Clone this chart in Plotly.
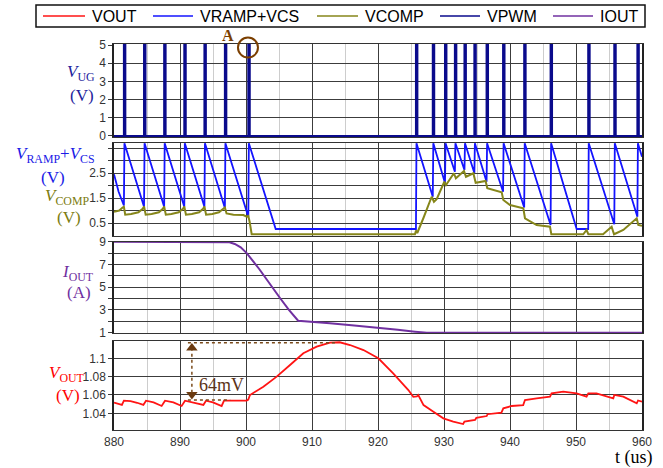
import plotly.graph_objects as go

# ---------------- data ----------------
T_START, T_END = 880, 960
x_ticks = [880, 890, 900, 910, 920, 930, 940, 950, 960]

# PWM pulse instants (us) and on-time
pwm_t = [881.5, 884.55, 887.6, 890.65, 893.7, 896.8, 900.35,
         925.75, 928.3, 930.15, 931.65, 933.1, 934.6, 936.45, 938.95,
         942.15, 946.15, 951.85, 955.8, 959.3]
pwm_on = 0.22
pwm_high = 5

# VRAMP+VCS : valley value reached just before each pulse, peak after it
ramp_valley = [1.2, 1.15, 1.15, 1.15, 1.15, 1.1, 0.75,
               0.26, 1.55, 2.1, 2.55, 2.62, 2.5, 2.15, 1.75,
               1.12, 0.42, 0.26, 0.45, 0.75]
ramp_peak = 3.69
ramp_start_t = [880.0, 880.7]
ramp_start_v = [2.45, 1.75]
ramp_floor_t = [904.5, 950.1]
ramp_floor_v = [0.26, 0.26]
ramp_end_v = 3.15

# VCOMP
vcomp_t = [880.0, 880.8, 881.3, 881.5, 881.7, 882.6, 883.7, 884.35, 884.55, 884.8,
           885.7, 886.8, 887.4, 887.6, 887.85, 888.7, 889.8, 890.45, 890.65, 890.9,
           891.8, 892.9, 893.5, 893.7, 893.95, 894.9, 895.9, 896.6, 896.8, 897.05,
           898.1, 899.6, 900.1, 900.35, 900.55, 900.86, 925.6, 925.76, 925.95, 926.87,
           928.13, 928.48, 928.89, 930.05, 930.3, 931.5, 931.8, 933.03, 933.33, 934.45,
           934.8, 936.3, 936.56, 938.74, 938.99, 940.0, 942.02, 942.27, 944.04, 946.06,
           946.26, 951.1, 951.6, 951.87, 954.1, 955.4, 955.76, 957.17, 959.2, 959.44, 960.0]
vcomp_v = [0.95, 1.0, 1.12, 1.15, 0.83, 0.86, 0.93, 1.07, 1.16, 0.83,
           0.86, 0.93, 1.07, 1.16, 0.83, 0.86, 0.93, 1.07, 1.16, 0.83,
           0.86, 0.93, 1.07, 1.16, 0.83, 0.86, 0.93, 1.05, 1.12, 0.88,
           0.83, 0.82, 0.75, 0.78, 0.55, 0.05, 0.05, 0.2, 0.1, 0.69,
           1.55, 1.35, 1.45, 2.15, 2.02, 2.49, 2.29, 2.58, 2.35, 2.49,
           2.11, 2.18, 1.89, 1.73, 1.42, 1.22, 1.09, 0.69, 0.42, 0.35,
           0.05, 0.05, 0.22, 0.05, 0.05, 0.35, 0.05, 0.22, 0.69, 0.42, 0.39]

# IOUT
iout_t = [880.0, 896.5, 897.5, 898.3, 899.2, 900.1, 902.0, 905.15, 906.5, 907.9,
          910.0, 912.7, 916.0, 920.3, 923.0, 925.6, 927.4, 960.0]
iout_v = [9.0, 9.0, 8.95, 8.8, 8.5, 8.0, 6.6, 4.05, 3.0, 2.05,
          1.97, 1.83, 1.65, 1.44, 1.25, 1.09, 1.0, 1.0]

# VOUT
vout_t = [880.0, 880.5, 881.2, 881.5, 882.5, 883.5, 884.45, 884.85, 886.0, 887.22,
          887.73, 889.0, 890.25, 890.76, 892.0, 893.54, 893.94, 895.0, 896.31, 896.67,
          897.58, 900.1, 900.35, 900.6, 902.63, 904.65, 906.67, 908.69, 910.71, 912.73,
          914.2, 915.76, 917.8, 920.05, 922.3, 924.6, 925.35, 925.9, 926.1, 926.9,
          928.4, 929.9, 931.4, 932.9, 933.1, 934.7, 934.9, 936.47, 936.6, 938.7,
          938.99, 940.26, 942.0, 942.27, 944.04, 946.06, 946.3, 948.07, 950.1, 951.6,
          951.87, 953.1, 955.65, 955.8, 957.17, 959.2, 959.4, 960.0]
vout_v = [1.0516, 1.0508, 1.0491, 1.0538, 1.0532, 1.0515, 1.0491, 1.0538, 1.052, 1.048,
          1.0538, 1.052, 1.048, 1.0538, 1.052, 1.0491, 1.0538, 1.052, 1.048, 1.0538,
          1.0538, 1.054, 1.055, 1.060, 1.069, 1.080, 1.0927, 1.1055, 1.1127, 1.117,
          1.1175, 1.1145, 1.109, 1.100, 1.0836, 1.0654, 1.058, 1.0585, 1.060, 1.049,
          1.0418, 1.0345, 1.0309, 1.0283, 1.031, 1.0327, 1.035, 1.037, 1.039, 1.0407,
          1.0455, 1.048, 1.049, 1.0545, 1.0564, 1.0582, 1.0618, 1.0636, 1.0618, 1.0582,
          1.0618, 1.0618, 1.0564, 1.060, 1.0582, 1.0509, 1.054, 1.0527]

# annotation values
vout_peak = 1.117
vout_base = 1.0545
arrow_t = 891.8
ann_a_t, ann_a_v = 900.3, 4.86

# ---------------- build series ----------------
vpwm_t, vpwm_v = [T_START], [0]
for t in pwm_t:
    vpwm_t += [t, t, t + pwm_on, t + pwm_on]
    vpwm_v += [0, pwm_high, pwm_high, 0]
vpwm_t.append(T_END); vpwm_v.append(0)

pts = list(zip(ramp_start_t, ramp_start_v))
for t, v in zip(pwm_t, ramp_valley):
    pts += [(t, v), (t + 0.08, ramp_peak)]
pts += list(zip(ramp_floor_t, ramp_floor_v))
pts.append((T_END, ramp_end_v))
pts.sort(key=lambda p: p[0])
vramp_t = [p[0] for p in pts]
vramp_v = [p[1] for p in pts]

# ---------------- layout helpers ----------------
W, H = 663, 468
ML, MR, MT, MB = 114, 21, 44, 38
PW, PH = W - ML - MR, H - MT - MB


def py(y):
    return (H - MB - y) / PH


def px(x):
    return (x - ML) / PW


def tx(t):
    return (t - T_START) / (T_END - T_START)


C_VOUT = '#ff1414'
C_RAMP = '#1414ff'
C_COMP = '#86861a'
C_PWM = '#0a0a8c'
C_IOUT = '#7030a0'
BROWN = '#7b3f00'
GRID = '#3c3c3c'
MINOR = '#cdcdcd'
SANS = 'Liberation Sans, Arial, sans-serif'
SERIF = 'Liberation Serif, Times New Roman, serif'

fig = go.Figure()
fig.add_trace(go.Scatter(x=vpwm_t, y=vpwm_v, mode='lines', name='VPWM',
                         line=dict(color=C_PWM, width=2), xaxis='x', yaxis='y'))
fig.add_trace(go.Scatter(x=vramp_t, y=vramp_v, mode='lines', name='VRAMP+VCS',
                         line=dict(color=C_RAMP, width=1.8), xaxis='x2', yaxis='y2'))
fig.add_trace(go.Scatter(x=vcomp_t, y=vcomp_v, mode='lines', name='VCOMP',
                         line=dict(color=C_COMP, width=2), xaxis='x2', yaxis='y2'))
fig.add_trace(go.Scatter(x=iout_t, y=iout_v, mode='lines', name='IOUT',
                         line=dict(color=C_IOUT, width=2), xaxis='x3', yaxis='y3'))
fig.add_trace(go.Scatter(x=vout_t, y=vout_v, mode='lines', name='VOUT',
                         line=dict(color=C_VOUT, width=1.8), xaxis='x4', yaxis='y4'))
# arrow heads of the 64 mV marker
fig.add_trace(go.Scatter(x=[arrow_t, arrow_t], y=[vout_peak - 0.0058, vout_base + 0.006],
                         mode='markers', marker=dict(symbol=['triangle-up', 'triangle-down'],
                                                     size=10, color='#6b3a10'),
                         xaxis='x4', yaxis='y4', name='arrow'))

panels = {  # pixel top, pixel bottom, range
    1: (44, 136.9, [-0.05, 5.055]),
    2: (142.5, 236, [-0.02, 3.72]),
    3: (241.7, 333, [0.97, 9.0]),
    4: (340.7, 430, [1.0218, 1.1192]),
}
yticks = {  # labelled ticks, unlabelled grid lines
    1: ([0, 1, 2, 3, 4, 5], []),
    2: ([0.5, 1.5, 2.5], [1, 2, 3, 3.5]),
    3: ([1, 3, 5, 7, 9], [2, 4, 6, 8]),
    4: ([1.04, 1.06, 1.08, 1.1], []),
}
tickfont = dict(family=SANS, size=12, color='#333333')
for i, (top, bot, rng) in panels.items():
    sx = '' if i == 1 else str(i)
    fig.layout['xaxis' + sx] = dict(
        domain=[0, 1], anchor='y' + sx, range=[T_START, T_END],
        tickvals=x_ticks, showticklabels=(i == 4), ticks='',
        showgrid=True, gridcolor=GRID, gridwidth=1,
        minor=dict(dtick=5, tick0=880, showgrid=True, gridcolor=MINOR, gridwidth=1),
        showline=True, linecolor='#333333', linewidth=1.2, mirror=True,
        zeroline=False, tickfont=tickfont,
        matches=None if i == 1 else 'x')
    ymin = dict(showgrid=True, gridcolor=GRID, gridwidth=1, ticks='outside',
                ticklen=4, tickcolor=GRID)
    if yticks[i][1]:
        ymin['tickvals'] = yticks[i][1]
    else:
        ymin = dict(showgrid=False)
    fig.layout['yaxis' + sx] = dict(
        domain=[py(bot), py(top)], anchor='x' + sx, range=rng,
        tickvals=yticks[i][0],
        ticks='outside', ticklen=4, tickcolor=GRID,
        showgrid=True, gridcolor=GRID, gridwidth=1, minor=ymin,
        showline=True, linecolor='#222222', linewidth=1.5, mirror=True,
        zeroline=False, tickfont=tickfont)

shapes = []
ann = []
# legend
shapes.append(dict(type='rect', xref='paper', yref='paper', x0=px(36), x1=px(645),
                   y0=py(27), y1=py(5), line=dict(color='#111111', width=1.5),
                   fillcolor='white'))
legend_items = [('VOUT', C_VOUT, 43, 85, 90), ('VRAMP+VCS', C_RAMP, 153, 193, 198),
                ('VCOMP', C_COMP, 317, 358, 363), ('VPWM', C_PWM, 440, 480, 485),
                ('IOUT', C_IOUT, 553, 593, 598)]
for name, col, l0, l1, t0 in legend_items:
    shapes.append(dict(type='line', xref='paper', yref='paper', x0=px(l0), x1=px(l1),
                       y0=py(16), y1=py(16), line=dict(color=col, width=1.5)))
    ann.append(dict(text=name, xref='paper', yref='paper', x=px(t0), y=py(16.5),
                    xanchor='left', yanchor='middle', showarrow=False,
                    font=dict(family=SANS, size=16, color='black')))


# panel labels (right edge given)
def lab(text, rx, cy, col, size=17, anchor='right'):
    ann.append(dict(text=text, xref='paper', yref='paper', x=px(rx), y=py(cy),
                    xanchor=anchor, yanchor='middle', showarrow=False,
                    font=dict(family=SERIF, size=size, color=col)))


lab('<i>V</i><sub>UG</sub>', 97, 73, '#23239c')
lab('(V)', 96, 95, '#23239c')
lab('<i>V</i><sub>RAMP</sub>+<i>V</i><sub>CS</sub>', 97, 155, '#1a1ae6')
lab('(V)', 67, 177, '#1a1ae6')
lab('<i>V</i><sub>COMP</sub>', 91, 197, '#7c7c10')
lab('(V)', 83, 217, '#7c7c10')
lab('<i>I</i><sub>OUT</sub>', 96, 273, C_IOUT)
lab('(A)', 93, 292, C_IOUT)
lab('<i>V</i><sub>OUT</sub>', 87, 374, '#ff0000')
lab('(V)', 82, 395, '#ff0000')
lab('t (us)', 655, 457, 'black', size=18)

# "A" marker
ann.append(dict(text='<b>A</b>', xref='paper', yref='paper', x=px(228), y=py(36),
                xanchor='center', yanchor='middle', showarrow=False,
                font=dict(family=SERIF, size=16, color=BROWN)))
shapes.append(dict(type='circle', xref='paper', yref='paper',
                   xsizemode='pixel', ysizemode='pixel',
                   xanchor=tx(ann_a_t), yanchor=py(136 - 18.2 * ann_a_v),
                   x0=-10, x1=10, y0=-10, y1=10, line=dict(color=BROWN, width=2)))

# 64 mV marker
dot = dict(color='#7a4a1a', width=1.5, dash='dot')
shapes.append(dict(type='line', xref='x4', yref='y4', x0=891.2, x1=913.8,
                   y0=vout_peak, y1=vout_peak, line=dot))
shapes.append(dict(type='line', xref='x4', yref='y4', x0=891.2, x1=897.6,
                   y0=vout_base, y1=vout_base, line=dot))
shapes.append(dict(type='line', xref='x4', yref='y4', x0=arrow_t, x1=arrow_t,
                   y0=vout_base + 0.008, y1=vout_peak - 0.008, line=dot))
ann.append(dict(text='64mV', xref='x4', yref='y4', x=892.5, y=1.071,
                xanchor='left', yanchor='middle', showarrow=False,
                font=dict(family=SERIF, size=18, color='#5c3317')))

fig.update_layout(width=W, height=H, margin=dict(l=ML, r=MR, t=MT, b=MB, pad=0),
                  paper_bgcolor='white', plot_bgcolor='white', showlegend=False,
                  shapes=shapes, annotations=ann)
fig.write_html('out.html')
